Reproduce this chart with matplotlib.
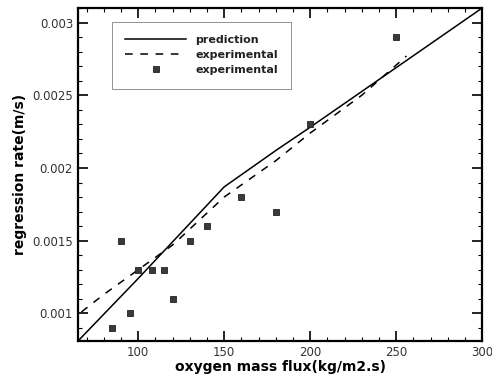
import matplotlib
matplotlib.use("Agg")
import matplotlib.pyplot as plt
from matplotlib.ticker import MultipleLocator

# prediction curve
pred_x = [65, 100, 150, 180, 200, 250, 300]
pred_y = [0.00081, 0.00124, 0.00187, 0.00212, 0.00228, 0.00269, 0.0031]

# experimental fit (dashed)
fit_x = [67, 80, 100, 120, 150, 180, 200, 230, 256]
fit_y = [0.00101, 0.00113, 0.0013, 0.00147, 0.0018, 0.00205, 0.00224, 0.0025, 0.00277]

# experimental points
exp_x = [85, 90, 95, 100, 108, 115, 120, 130, 140, 160, 180, 200, 250]
exp_y = [0.0009, 0.0015, 0.001, 0.0013, 0.0013, 0.0013, 0.0011, 0.0015, 0.0016, 0.0018, 0.0017, 0.0023, 0.0029]

fig = plt.figure(figsize=(4.92, 3.76), dpi=100)
ax = fig.add_axes([0.1585, 0.093, 0.8215, 0.8857])

ax.plot(pred_x, pred_y, color="black", lw=1.1, label="prediction")
ax.plot(fit_x, fit_y, color="black", lw=1.1, ls=(0, (5, 5)), label="experimental")
ax.plot(exp_x, exp_y, ls="none", marker="s", ms=5, mfc="#3a3a3a", mec="#222222",
        mew=0.6, label="experimental")

ax.set_xlim(65, 300)
ax.set_ylim(0.00081, 0.0031)
ax.xaxis.set_major_locator(MultipleLocator(50))
ax.xaxis.set_minor_locator(MultipleLocator(10))
ax.yaxis.set_major_locator(MultipleLocator(0.0005))
ax.yaxis.set_minor_locator(MultipleLocator(0.0001))
ax.yaxis.set_major_formatter(matplotlib.ticker.FuncFormatter(lambda v, p: f"{v:g}"))

ax.tick_params(which="both", direction="in", top=True, right=True, labelsize=8.5,
               labelcolor="#333333")
ax.tick_params(which="major", length=7, width=1.2)
ax.tick_params(which="minor", length=3, width=0.8)
for s in ax.spines.values():
    s.set_linewidth(1.6)

ax.set_xlabel("oxygen mass flux(kg/m2.s)", fontsize=10, fontweight="bold", labelpad=1)
ax.set_ylabel("regression rate(m/s)", fontsize=10, fontweight="bold", labelpad=4)

leg = ax.legend(loc="upper left", bbox_to_anchor=(0.084, 0.958), borderaxespad=0,
                fontsize=8, handlelength=5.5, handletextpad=0.8, labelspacing=0.45,
                borderpad=1.2, fancybox=False, frameon=True)
leg.get_frame().set_edgecolor("#777777")
leg.get_frame().set_linewidth(0.7)
for t in leg.get_texts():
    t.set_fontweight("bold")
    t.set_color("#222222")

fig.savefig("out.png", dpi=100)
